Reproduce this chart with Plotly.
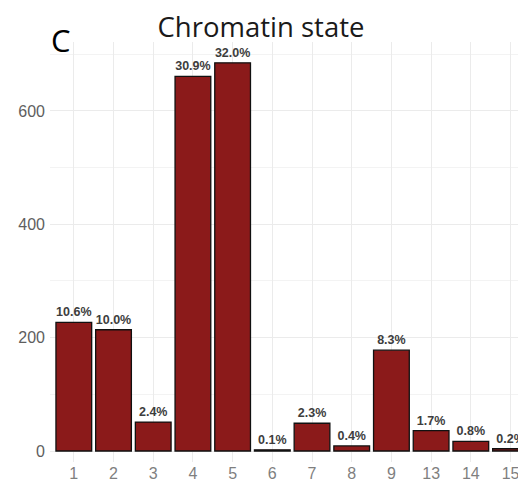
import plotly.graph_objects as go

states = ["1", "2", "3", "4", "5", "6", "7", "8", "9", "13", "14", "15"]
counts = [227, 214, 51, 661, 685, 2, 49, 9, 178, 36, 17, 4]
percents = ["10.6%", "10.0%", "2.4%", "30.9%", "32.0%", "0.1%", "2.3%", "0.4%", "8.3%", "1.7%", "0.8%", "0.2%"]
y_ticks = [0, 200, 400, 600]

# the page has an 8px body margin, so figure pixel = window pixel - 8
OFF = 8
L, T, B_WIN = 50 - OFF, 42 - OFF, 462 - OFF
W, H = 526, 486
PX_PER_UNIT = 0.5667
ZERO_WIN = 451

fig = go.Figure(
    go.Bar(
        x=states,
        y=counts,
        text=percents,
        textposition="outside",
        textfont=dict(family="Liberation Sans, Arial, sans-serif", size=12.5, color="#3d3d3d", weight="bold"),
        cliponaxis=False,
        width=0.9,
        marker=dict(color="#8B1A1A", line=dict(color="#111111", width=1.3)),
    )
)

plot_h = B_WIN - T
fig.update_layout(
    width=W,
    height=H,
    margin=dict(l=L, r=OFF, t=T, b=H - B_WIN, autoexpand=False),
    paper_bgcolor="white",
    plot_bgcolor="white",
    showlegend=False,
    uniformtext=dict(minsize=12, mode="show"),
    title=dict(
        text="Chromatin state",
        x=(261 - OFF) / W,
        xanchor="center",
        y=1 - (27.5 - OFF) / H,
        yanchor="middle",
        font=dict(family="Open Sans, Noto Sans, sans-serif", size=27.5, color="#1a1a1a"),
    ),
    annotations=[
        dict(
            text="C",
            xref="paper",
            yref="paper",
            x=(61 - OFF - L) / (W - L - OFF),
            y=(B_WIN - (40 - OFF)) / plot_h,
            xanchor="center",
            yanchor="middle",
            showarrow=False,
            font=dict(family="Open Sans, Noto Sans, sans-serif", size=31, color="black"),
        )
    ],
)

fig.update_xaxes(
    type="category",
    range=[-0.6, 11.39],
    automargin=False,
    showgrid=True,
    gridcolor="#ebebeb",
    gridwidth=1,
    showline=False,
    zeroline=False,
    ticks="",
    tickfont=dict(family="Liberation Sans, Arial, sans-serif", size=16, color="#7f7f7f"),
)

fig.update_yaxes(
    range=[-(462 - ZERO_WIN) / PX_PER_UNIT, (ZERO_WIN - 42) / PX_PER_UNIT],
    automargin=False,
    tickvals=y_ticks,
    showgrid=True,
    gridcolor="#ebebeb",
    gridwidth=1,
    minor=dict(dtick=100, tick0=0, showgrid=True, gridcolor="#f3f3f3", gridwidth=1),
    zeroline=False,
    showline=False,
    ticks="",
    ticklabelstandoff=4,
    tickfont=dict(family="Liberation Sans, Arial, sans-serif", size=16, color="#5e5e5e"),
)

fig.write_html("out.html")
